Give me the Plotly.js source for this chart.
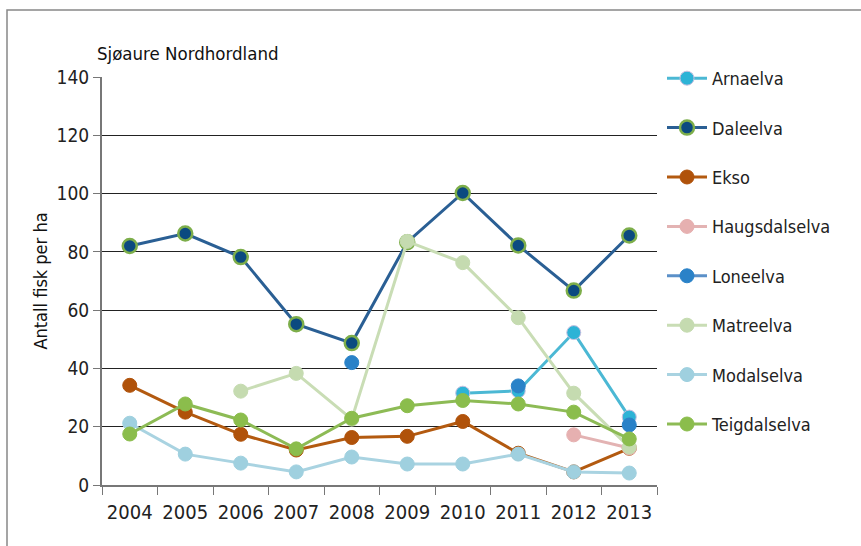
<!DOCTYPE html>
<html><head><meta charset="utf-8">
<script src="https://cdn.plot.ly/plotly-3.0.1.min.js"></script>
<style>body{margin:0;background:#fff}#c{width:861px;height:546px}</style>
</head><body><div id="c"></div>
<script>
const years = ['2004','2005','2006','2007','2008','2009','2010','2011','2012','2013'];
const arnaelva      = [null,null,null,null,null,null,31.5,32.3,52.3,23.3];
const daleelva      = [82.0,86.3,78.2,55.2,48.7,83.3,100.2,82.2,66.7,85.6];
const ekso          = [34.2,25.0,17.4,12.0,16.3,16.7,21.8,10.9,4.5,12.6];
const haugsdalselva = [null,null,null,null,null,null,null,null,17.2,12.7];
const loneelva      = [null,null,null,null,42.0,null,null,34.0,null,20.6];
const matreelva     = [null,null,32.2,38.3,22.6,83.6,76.3,57.4,31.5,13.0];
const modalselva    = [21.2,10.6,7.5,4.5,9.6,7.2,7.2,10.6,4.5,4.1];
const teigdalselva  = [17.5,27.8,22.3,12.4,22.9,27.2,29.0,27.8,25.0,15.8];

const names = ['Arnaelva','Daleelva','Ekso','Haugsdalselva','Loneelva','Matreelva','Modalselva','Teigdalselva'];
const series = [arnaelva,daleelva,ekso,haugsdalselva,loneelva,matreelva,modalselva,teigdalselva];
const lineCol = ['#4bb8d4','#2a5f94','#b35a10','#e3b3b3','#5b90c8','#c9ddb5','#a9d3e1','#8dbb55'];
const mkCol   = ['#2db3d6','#0b4a80','#b0520a','#e6b0b0','#2a82c8','#c5dbb0','#9fd0df','#8bbd4c'];
const mkLine  = ['#c8c0e0','#7dae4a','#b0520a','#e6b0b0','#2a82c8','#c5dbb0','#9fd0df','#8bbd4c'];

const traces = series.map((s,i)=>({
  x: years, y: s, type:'scatter', mode:'lines+markers', name:names[i],
  legendgroup:'g'+i, connectgaps:false,
  line:{color:lineCol[i], width:3},
  marker:{size:14, color:mkCol[i], line:{color:mkLine[i], width: i===1?2.5:1}},
  cliponaxis:false
}));

const L=102,R=657,T=77,B=485;
const px=(x)=>(x-L)/(R-L), py=(y)=>(B-y)/(B-T);
const font = '"DejaVu Sans Condensed","DejaVu Sans",sans-serif';

const layout = {
  width:861, height:546,
  margin:{l:L, r:861-R, t:T, b:546-B, autoexpand:false},
  paper_bgcolor:'#fff', plot_bgcolor:'#fff',
  font:{family:font, color:'#222', size:18, stretch:'condensed'},
  title:{text:'Sjøaure Nordhordland', x:97/861, xanchor:'left', xref:'container',
         y:1-54/546, yref:'container', yanchor:'middle', font:{size:18.5, color:'#111', family:font, stretch:'condensed'}},
  xaxis:{type:'category', range:[-0.5,9.5], tickson:'boundaries', ticks:'outside', ticklen:8, tickcolor:'#777',
         showline:true, linecolor:'#777', linewidth:2, showgrid:false, zeroline:false, automargin:false,
         ticklabelstandoff:8,
         tickfont:{size:20, color:'#222', family:font, stretch:'condensed'}},
  yaxis:{range:[0,140], dtick:20, ticks:'outside', ticklen:7, tickcolor:'#777', automargin:false,
         showline:true, linecolor:'#777', linewidth:2, showgrid:true, gridcolor:'#222', gridwidth:1,
         zeroline:false, tickfont:{size:19, color:'#222', family:font, stretch:'condensed'},
         title:{text:'Antall fisk per ha', font:{size:18, color:'#111', family:font, stretch:'condensed'}, standoff:4}},
  legend:{x:px(662), xanchor:'left', y:py(60), yanchor:'top', tracegroupgap:23, maxheight:1,
          font:{size:18, color:'#222', family:font, stretch:'condensed'}, bgcolor:'rgba(0,0,0,0)', itemwidth:40},
  showlegend:true,
  shapes:[{type:'rect', xref:'paper', yref:'paper', x0:px(7), x1:px(900), y0:py(600), y1:py(10),
           line:{color:'#888', width:1.5}, fillcolor:'rgba(0,0,0,0)', layer:'below'}]
};
Plotly.newPlot('c', traces, layout, {displayModeBar:false, staticPlot:true});
</script></body></html>
